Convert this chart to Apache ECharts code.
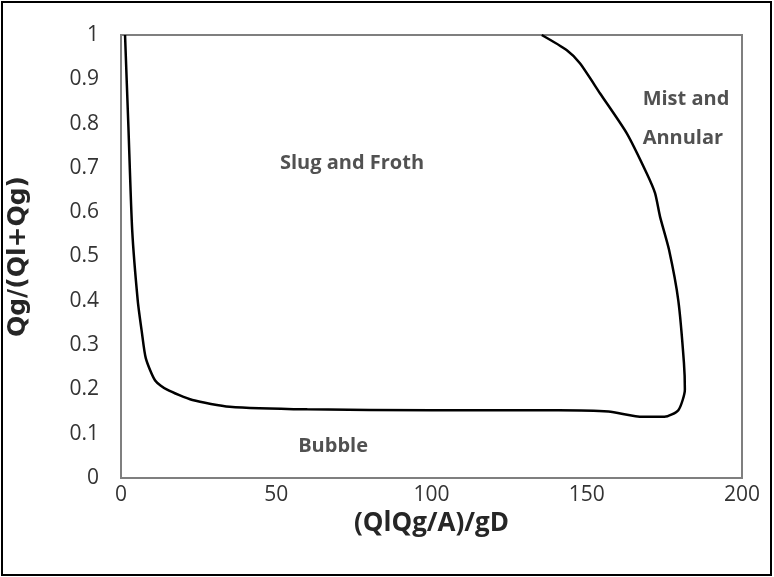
<!DOCTYPE html>
<html><head><meta charset="utf-8">
<script src="https://cdn.jsdelivr.net/npm/echarts@6/dist/echarts.min.js"></script>
<style>html,body{margin:0;padding:0;background:#fff}#c{width:774px;height:577px}</style>
</head><body><div id="c"></div>
<script>
// Boundary curve between flow regimes (x = (QlQg/A)/gD, y = Qg/(Ql+Qg))
const boundaryX = [1.3, 2.4, 3.6, 5.4, 6.7, 8.0, 11, 14.7, 23, 35, 60, 100, 141, 157, 168, 175, 179.5, 181.6, 181.3, 179.5, 176.5, 173.6, 172.0, 169.3, 162.9, 154.3, 147.8, 143.5, 135.5];
const boundaryY = [1.0, 0.79, 0.56, 0.40, 0.33, 0.27, 0.22, 0.20, 0.176, 0.161, 0.155, 0.153, 0.153, 0.150, 0.138, 0.138, 0.153, 0.20, 0.26, 0.40, 0.515, 0.59, 0.643, 0.688, 0.778, 0.868, 0.936, 0.966, 1.0];
// Region annotations
const regionNames = ['Slug and Froth', 'Bubble', 'Mist and', 'Annular'];
const regionX = [74.4, 68.3, 168, 168];
const regionY = [0.711, 0.072, 0.855, 0.767];
const regionAlign = ['center', 'center', 'left', 'left'];
const xTicks = [0, 50, 100, 150, 200];
const yTicks = [0, 0.1, 0.2, 0.3, 0.4, 0.5, 0.6, 0.7, 0.8, 0.9, 1];

const FONT = '"Open Sans", sans-serif';
const chart = echarts.init(document.getElementById('c'));
chart.setOption({
  animation: false,
  backgroundColor: '#fff',
  grid: { left: 121, right: 32, top: 35, bottom: 99, containLabel: false, outerBoundsMode: 'none',
    show: true, borderColor: '#7f7f7f', borderWidth: 2, backgroundColor: 'transparent' },
  xAxis: {
    type: 'value', min: xTicks[0], max: xTicks[xTicks.length - 1], interval: 50,
    name: '(QlQg/A)/gD', nameLocation: 'middle', nameGap: 30,
    nameTextStyle: { fontFamily: FONT, fontSize: 26, fontWeight: 'bold', color: '#262626' },
    axisLine: { show: true, lineStyle: { color: '#7f7f7f', width: 2 } },
    axisTick: { show: false }, splitLine: { show: false },
    axisLabel: { fontFamily: FONT, fontSize: 21, color: '#333', margin: 7 }
  },
  yAxis: {
    type: 'value', min: yTicks[0], max: yTicks[yTicks.length - 1], interval: 0.1,
    name: 'Qg/(Ql+Qg)', nameLocation: 'middle', nameGap: 90, nameRotate: 90,
    nameTextStyle: { fontFamily: '"DejaVu Sans", sans-serif', fontSize: 25, fontWeight: 'bold', color: '#262626' },
    axisLine: { show: true, lineStyle: { color: '#7f7f7f', width: 2 } },
    axisTick: { show: false }, splitLine: { show: false },
    axisLabel: { fontFamily: FONT, fontSize: 21, color: '#333', margin: 22,
      formatter: v => String(Math.round(v * 10) / 10) }
  },
  series: [
    {
      type: 'line', smooth: 0.22, showSymbol: false, symbol: 'none',
      lineStyle: { color: '#000', width: 2.5 },
      data: boundaryX.map((x, i) => [x, boundaryY[i]])
    },
    {
      type: 'scatter', symbolSize: 0, silent: true,
      data: regionNames.map((n, i) => ({
        value: [regionX[i], regionY[i]],
        label: { show: true, position: 'inside', formatter: n, align: regionAlign[i],
          fontFamily: FONT, fontSize: 20, fontWeight: 'bold', color: '#262626' }
      }))
    }
  ],
  graphic: [{
    type: 'rect', shape: { x: 2, y: 2, width: 769, height: 573 },
    style: { fill: 'none', stroke: '#000', lineWidth: 2 }, silent: true
  }]
});
</script></body></html>
